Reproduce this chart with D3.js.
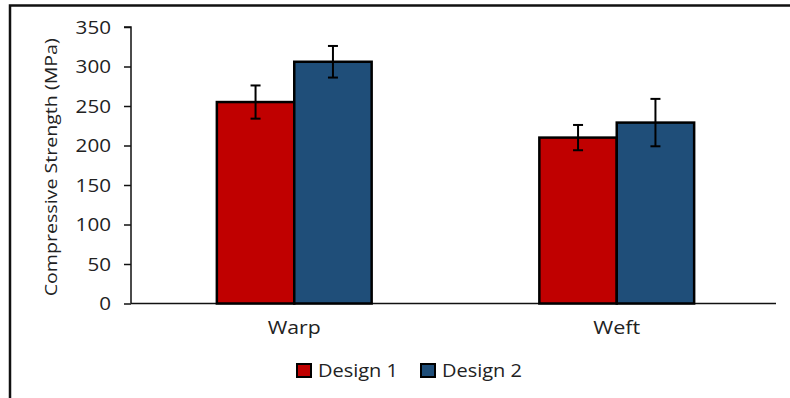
<!DOCTYPE html>
<html><head><meta charset="utf-8">
<script src="https://cdn.jsdelivr.net/npm/d3@7"></script>
<style>body{margin:0;background:#fff}svg{display:block}text{font-family:"Open Sans",sans-serif;fill:#222}</style>
</head><body><svg id="c" width="790" height="398"></svg>
<script>
const categories = ["Warp", "Weft"];
const seriesNames = ["Design 1", "Design 2"];
const design1 = [255, 210];
const design2 = [306, 229];
const design1Err = [21, 16];
const design2Err = [20, 30];
const yTicks = [0, 50, 100, 150, 200, 250, 300, 350];
const colors = ["#C00000", "#1F4E79"];

const svg = d3.select("#c");
svg.append("path").attr("d","M10,398V5.5H790").attr("fill","none").attr("stroke","#111").attr("stroke-width",2.5);

const m = {l:131, r:776, t:27, b:303.5};
const y = d3.scaleLinear().domain([0,350]).range([m.b, m.t]);
const x0 = d3.scaleBand().domain(categories).range([m.l+2, m.r+2]).paddingInner(0.52).paddingOuter(0.26);
const x1 = d3.scaleBand().domain(seriesNames).range([0, x0.bandwidth()]);

const yAxis = d3.axisLeft(y).tickValues(yTicks).tickSize(7).tickPadding(13);
const gy = svg.append("g").attr("transform",`translate(${m.l},0)`).call(yAxis);
gy.attr("font-size",null).attr("font-family",null);
gy.select(".domain").attr("stroke","#111").attr("stroke-width",1.5).attr("d",`M-7,${m.t}H0V${m.b}`);
gy.selectAll(".tick line").attr("stroke","#111").attr("stroke-width",1.5);
gy.selectAll("text").style("font-size","18px").attr("fill","#222").attr("dy","0.36em")
  .attr("textLength",d=>String(d).length*11.8).attr("lengthAdjust","spacingAndGlyphs");

svg.append("line").attr("x1",m.l).attr("x2",m.r).attr("y1",m.b).attr("y2",m.b).attr("stroke","#111").attr("stroke-width",1.5);

svg.append("text").attr("transform",`translate(57,${(m.t+m.b)/2+2}) rotate(-90)`).attr("text-anchor","middle")
  .style("font-size","16px").attr("textLength",258).attr("lengthAdjust","spacingAndGlyphs").attr("fill","#333").text("Compressive Strength (MPa)");

const data = categories.map((c,i)=>({cat:c, vals:[{s:seriesNames[0],v:design1[i],e:design1Err[i],c:colors[0]},{s:seriesNames[1],v:design2[i],e:design2Err[i],c:colors[1]}]}));
const g = svg.selectAll("g.cat").data(data).join("g").attr("class","cat").attr("transform",d=>`translate(${x0(d.cat)},0)`);
g.selectAll("rect").data(d=>d.vals).join("rect")
  .attr("x",d=>x1(d.s)).attr("width",x1.bandwidth()).attr("y",d=>y(d.v)).attr("height",d=>y(0)-y(d.v))
  .attr("fill",d=>d.c).attr("stroke","#000").attr("stroke-width",2.5);
const eb = g.selectAll("g.eb").data(d=>d.vals).join("g").attr("class","eb");
eb.append("line").attr("x1",d=>x1(d.s)+x1.bandwidth()/2).attr("x2",d=>x1(d.s)+x1.bandwidth()/2)
  .attr("y1",d=>y(d.v+d.e)).attr("y2",d=>y(d.v-d.e)).attr("stroke","#000").attr("stroke-width",2);
[1,-1].forEach(sg=>{
  eb.append("line").attr("x1",d=>x1(d.s)+x1.bandwidth()/2-5).attr("x2",d=>x1(d.s)+x1.bandwidth()/2+5)
    .attr("y1",d=>y(d.v+sg*d.e)).attr("y2",d=>y(d.v+sg*d.e)).attr("stroke","#000").attr("stroke-width",2);
});

svg.selectAll("text.cl").data(categories).join("text").attr("class","cl")
  .attr("x",d=>x0(d)+x0.bandwidth()/2).attr("y",334).attr("text-anchor","middle").style("font-size","18px")
  .attr("textLength",(d,i)=>[53,47][i]).attr("lengthAdjust","spacingAndGlyphs").text(d=>d);

const lg = svg.append("g");
const lx = [297, 421];
seriesNames.forEach((s,i)=>{
  lg.append("rect").attr("x",lx[i]).attr("y",364).attr("width",14).attr("height",13).attr("fill",colors[i]).attr("stroke","#000").attr("stroke-width",2);
  lg.append("text").attr("x",lx[i]+21).attr("y",377).style("font-size","17.5px").attr("textLength",80).attr("lengthAdjust","spacingAndGlyphs").text(s);
});
</script></body></html>
